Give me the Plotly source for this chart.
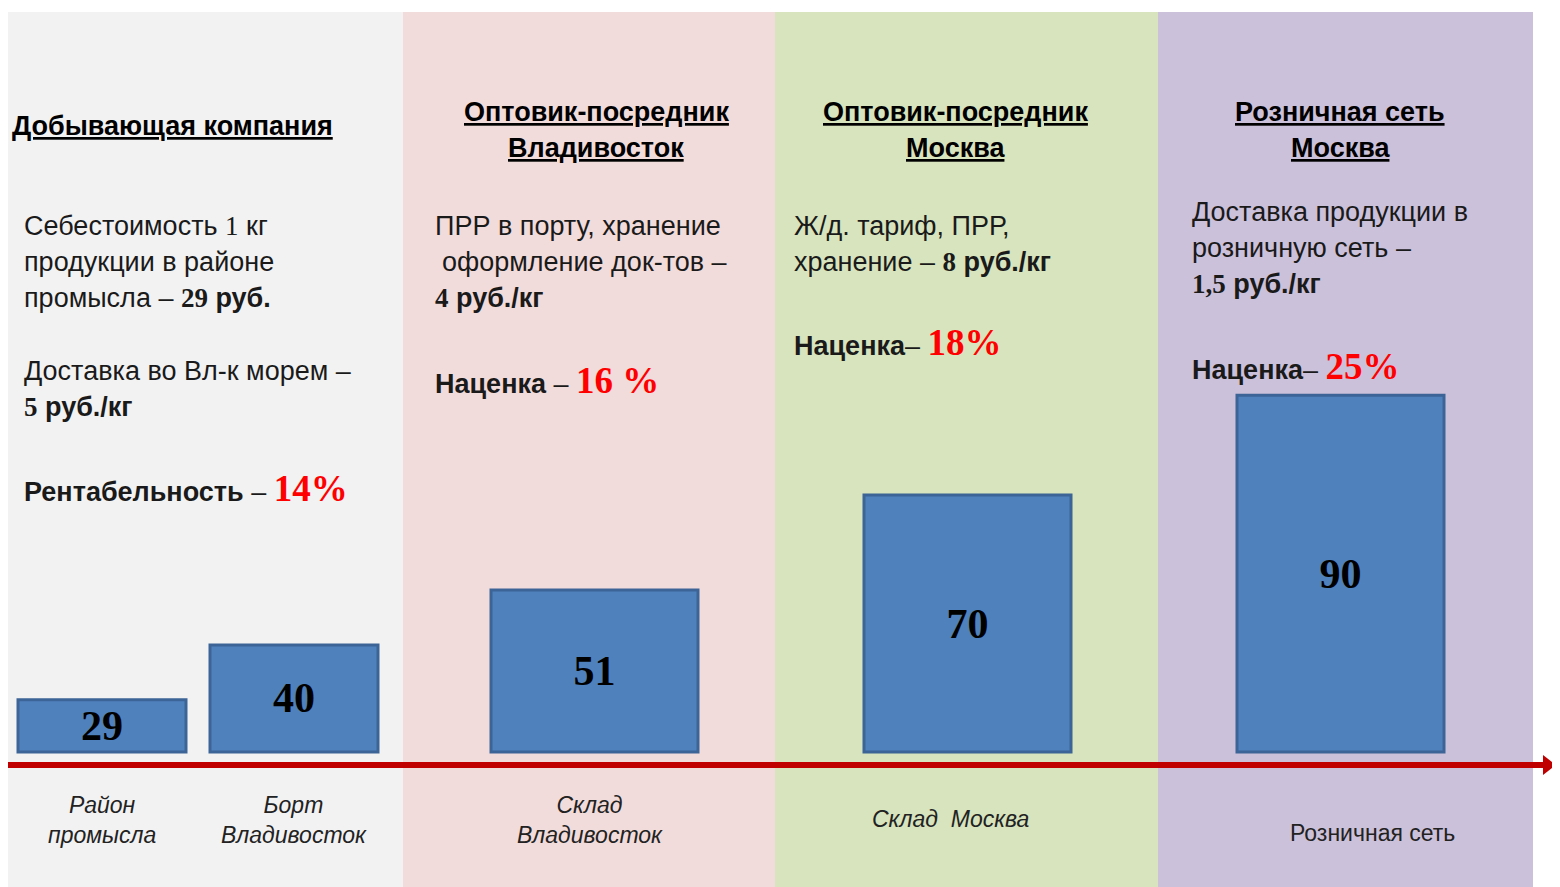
import plotly.graph_objects as go

# stage data
stages = ["Район промысла", "Борт Владивосток", "Склад Владивосток", "Склад Москва", "Розничная сеть"]
prices = [29, 40, 51, 70, 90]
markups = ["14%", "16 %", "18%", "25%"]
costs = ["29 руб.", "5 руб./кг", "4 руб./кг", "8 руб./кг", "1,5 руб./кг"]

# layout in screen pixels; the page body adds an 8px margin, so the figure starts at (8, 8)
OFF = 8
W, H = 1560 - OFF, 887 - OFF
bar_x = [102, 294, 594.5, 967.5, 1340.5]
bar_w = [168, 168, 207, 207, 207]
panels = [(0, 403, "#f2f2f2"), (403, 775, "#f2dcdb"), (775, 1158, "#d7e4bd"), (1158, 1533, "#ccc1da")]

# bars are drawn on a truncated value axis: floor value sits at screen pixel 752
px_per_unit = 4.995
floor_val = 18.56
floor_px = 752
y_lo = floor_val - (887 - floor_px) / px_per_unit
y_hi = floor_val + (floor_px - OFF) / px_per_unit


def py(p):
    return 1 - (p - OFF) / H


SANS = "Liberation Sans, Arial, sans-serif"
SERIF = "Liberation Serif, Georgia, serif"
NARROW = "Liberation Sans Narrow, Arial Narrow, Liberation Sans, sans-serif"


def num(s):
    return f'<span style="font-family:{SERIF}">{s}</span>'


def red(s):
    return f'<span style="font-family:{SERIF};color:#ff0000;font-size:37px"><b>{s}</b></span>'


fig = go.Figure()
fig.add_trace(go.Bar(
    x=bar_x, y=[v - floor_val for v in prices], base=floor_val, width=bar_w,
    marker=dict(color="#4f81bd", line=dict(color="#3c6496", width=3)),
    text=[f"<b>{v}</b>" for v in prices], textposition="inside", insidetextanchor="middle",
    textfont=dict(family=SERIF, size=42, color="#000000"), constraintext="none",
    hoverinfo="skip",
))

shapes = []
for x0, x1, c in panels:
    shapes.append(dict(type="rect", xref="x", yref="paper", x0=x0, x1=x1, y0=0, y1=py(12),
                       fillcolor=c, line_width=0, layer="below"))
# red timeline with arrow
ly = py(765)
shapes.append(dict(type="line", xref="x", yref="paper", x0=0, x1=1546, y0=ly, y1=ly,
                   line=dict(color="#c00000", width=6), layer="above"))
shapes.append(dict(type="path", xref="x", yref="paper",
                   path=f"M 1543,{py(755)} L 1556,{ly} L 1543,{py(775)} Z",
                   fillcolor="#c00000", line_width=0, layer="above"))

ann = []


def txt(x, y, s, anchor="left", size=27, color="#1a1a1a", family=SANS):
    ann.append(dict(x=x, y=py(y), xref="x", yref="paper", text=s, showarrow=False,
                    xanchor=anchor, yanchor="middle", align=anchor,
                    font=dict(family=family, size=size, color=color)))


def title(x, y, s, anchor="center"):
    txt(x, y, f"<b><u>{s}</u></b>", anchor, size=27, color="#000000")


# panel 1
title(10, 126, "Добывающая компания", "left")
txt(22, 226, f"Себестоимость {num('1')} кг")
txt(22, 262, "продукции в районе")
txt(22, 298, f"промысла – <b>{num('29')} руб.</b>")
txt(22, 371, "Доставка во Вл-к морем –")
txt(22, 407, f"<b>{num('5')} руб./кг</b>")
txt(22, 489, f"<b>Рентабельность</b> – {red(markups[0])}")

# panel 2
title(596, 112, "Оптовик-посредник")
title(596, 148, "Владивосток")
txt(433, 226, "ПРР в порту, хранение")
txt(440, 262, "оформление док-тов –")
txt(433, 298, f"<b>{num('4')} руб./кг</b>")
txt(433, 380, f"<b>Наценка</b> – {red(markups[1])}")

# panel 3
title(955, 112, "Оптовик-посредник")
title(955, 148, "Москва")
txt(792, 226, "Ж/д. тариф, ПРР,")
txt(792, 262, f"хранение – <b>{num('8')} руб./кг</b>")
txt(792, 342, f"<b>Наценка</b>– {red(markups[2])}")

# panel 4
title(1340, 112, "Розничная сеть")
title(1340, 148, "Москва")
txt(1190, 212, "Доставка продукции в")
txt(1190, 248, "розничную сеть –")
txt(1190, 284, f"<b>{num('1,5')} руб./кг</b>")
txt(1190, 366, f"<b>Наценка</b>– {red(markups[3])}")

# stage labels under the timeline
txt(102, 820, "<i>Район<br>промысла</i>", "center", size=23, color="#222222", family=NARROW)
txt(294, 820, "<i>Борт<br>Владивосток</i>", "center", size=23, color="#222222", family=NARROW)
txt(590, 820, "<i>Склад<br>Владивосток</i>", "center", size=23, color="#222222", family=NARROW)
txt(950, 819, "<i>Склад  Москва</i>", "center", size=23, color="#222222", family=NARROW)
txt(1372, 833, "Розничная сеть", "center", size=23, color="#222222", family=NARROW)

fig.update_layout(
    width=W, height=H, margin=dict(l=0, r=0, t=0, b=0),
    paper_bgcolor="white", plot_bgcolor="rgba(0,0,0,0)",
    showlegend=False, shapes=shapes, annotations=ann,
    xaxis=dict(range=[OFF, 1560], visible=False, fixedrange=True),
    yaxis=dict(range=[y_lo, y_hi], visible=False, fixedrange=True),
)
fig.write_html("out.html")
